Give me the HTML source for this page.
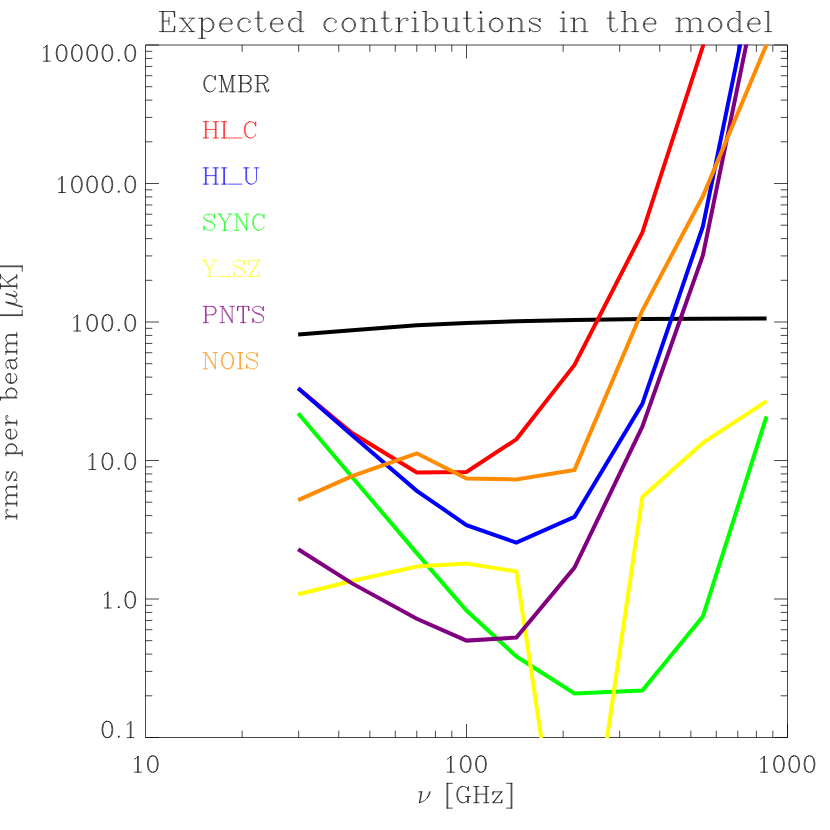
<!DOCTYPE html>
<html><head><meta charset="utf-8"><title>Expected contributions in the model</title>
<style>html,body{margin:0;padding:0;background:#fff;font-family:"Liberation Sans",sans-serif}svg{display:block}</style></head>
<body>
<svg width="830" height="830" viewBox="0 0 830 830">
<rect width="830" height="830" fill="#fff"/>
<path d="M145.5,45H787.5V737.5H145.5ZM242.13,737.5v-6.8M242.13,45v6.8M298.66,737.5v-6.8M298.66,45v6.8M338.76,737.5v-6.8M338.76,45v6.8M369.87,737.5v-6.8M369.87,45v6.8M395.29,737.5v-6.8M395.29,45v6.8M416.78,737.5v-6.8M416.78,45v6.8M435.39,737.5v-6.8M435.39,45v6.8M451.81,737.5v-6.8M451.81,45v6.8M466.5,737.5v-13.5M466.5,45v13.5M563.13,737.5v-6.8M563.13,45v6.8M619.66,737.5v-6.8M619.66,45v6.8M659.76,737.5v-6.8M659.76,45v6.8M690.87,737.5v-6.8M690.87,45v6.8M716.29,737.5v-6.8M716.29,45v6.8M737.78,737.5v-6.8M737.78,45v6.8M756.39,737.5v-6.8M756.39,45v6.8M772.81,737.5v-6.8M772.81,45v6.8M787.5,737.5v-13.5M787.5,45v13.5M145.5,737.5h13.5M787.5,737.5h-13.5M145.5,695.81h6.8M787.5,695.81h-6.8M145.5,671.42h6.8M787.5,671.42h-6.8M145.5,654.11h6.8M787.5,654.11h-6.8M145.5,640.69h6.8M787.5,640.69h-6.8M145.5,629.73h6.8M787.5,629.73h-6.8M145.5,620.45h6.8M787.5,620.45h-6.8M145.5,612.42h6.8M787.5,612.42h-6.8M145.5,605.34h6.8M787.5,605.34h-6.8M145.5,599h13.5M787.5,599h-13.5M145.5,557.31h6.8M787.5,557.31h-6.8M145.5,532.92h6.8M787.5,532.92h-6.8M145.5,515.61h6.8M787.5,515.61h-6.8M145.5,502.19h6.8M787.5,502.19h-6.8M145.5,491.23h6.8M787.5,491.23h-6.8M145.5,481.95h6.8M787.5,481.95h-6.8M145.5,473.92h6.8M787.5,473.92h-6.8M145.5,466.84h6.8M787.5,466.84h-6.8M145.5,460.5h13.5M787.5,460.5h-13.5M145.5,418.81h6.8M787.5,418.81h-6.8M145.5,394.42h6.8M787.5,394.42h-6.8M145.5,377.11h6.8M787.5,377.11h-6.8M145.5,363.69h6.8M787.5,363.69h-6.8M145.5,352.73h6.8M787.5,352.73h-6.8M145.5,343.45h6.8M787.5,343.45h-6.8M145.5,335.42h6.8M787.5,335.42h-6.8M145.5,328.34h6.8M787.5,328.34h-6.8M145.5,322h13.5M787.5,322h-13.5M145.5,280.31h6.8M787.5,280.31h-6.8M145.5,255.92h6.8M787.5,255.92h-6.8M145.5,238.61h6.8M787.5,238.61h-6.8M145.5,225.19h6.8M787.5,225.19h-6.8M145.5,214.23h6.8M787.5,214.23h-6.8M145.5,204.95h6.8M787.5,204.95h-6.8M145.5,196.92h6.8M787.5,196.92h-6.8M145.5,189.84h6.8M787.5,189.84h-6.8M145.5,183.5h13.5M787.5,183.5h-13.5M145.5,141.81h6.8M787.5,141.81h-6.8M145.5,117.42h6.8M787.5,117.42h-6.8M145.5,100.11h6.8M787.5,100.11h-6.8M145.5,86.69h6.8M787.5,86.69h-6.8M145.5,75.73h6.8M787.5,75.73h-6.8M145.5,66.45h6.8M787.5,66.45h-6.8M145.5,58.42h6.8M787.5,58.42h-6.8M145.5,51.34h6.8M787.5,51.34h-6.8M145.5,45h13.5M787.5,45h-13.5" stroke="#000" stroke-width="0.72" fill="none" stroke-linecap="butt"/>
<defs><clipPath id="c"><rect x="145" y="44.5" width="643" height="693.5"/></clipPath></defs>
<g clip-path="url(#c)" fill="none" stroke-width="4.0" stroke-linejoin="miter" stroke-linecap="butt" stroke-miterlimit="10">
<polyline points="298.16,334.5 352.05,330.2 416.78,325.3 466.5,323 516.36,321.2 574.5,319.9 642.34,319 702.88,318.7 766.59,318.6" stroke="#000000"/>
<polyline points="298.16,388.2 352.05,433 416.78,472.5 466.5,471.9 516.36,439.3 574.5,365 642.34,232.6 702.88,46.3 766.59,-300" stroke="#ff0000"/>
<polyline points="298.16,388.2 352.05,435.3 416.78,490.8 466.5,525.1 516.36,542.7 574.5,516.9 642.34,403.9 702.88,226.5 766.59,-84" stroke="#0000ff"/>
<polyline points="298.16,413.3 352.05,477 416.78,553.1 466.5,610.5 516.36,656.4 574.5,693.5 642.34,690.6 702.88,616.6 766.59,416.3" stroke="#00ff00"/>
<polyline points="298.16,594.2 352.05,581 416.78,566.5 466.5,563.6 516.36,571.4 574.5,960 642.34,497.1 702.88,442.9 766.59,401.2" stroke="#ffff00"/>
<polyline points="298.16,549.2 352.05,583.4 416.78,618.8 466.5,640.6 516.36,637.6 574.5,567.6 642.34,426.7 702.88,255.4 766.59,-54" stroke="#800080"/>
<polyline points="298.16,500.2 352.05,476.1 416.78,453.3 466.5,478.5 516.36,479.5 574.5,469.9 642.34,310.5 702.88,196.3 766.59,44.5" stroke="#ff8c00"/>
</g>
<path d="M162.28,11.51L162.28,31.6M163.24,11.51L163.24,31.6M168.98,17.25L168.98,24.9M159.41,11.51L174.72,11.51L174.72,17.25L173.76,11.51M163.24,21.08L168.98,21.08M159.41,31.6L174.72,31.6L174.72,25.86L173.76,31.6M181.41,18.21L191.93,31.6M182.37,18.21L192.89,31.6M192.89,18.21L181.41,31.6M179.5,18.21L185.24,18.21M189.06,18.21L194.8,18.21M179.5,31.6L185.24,31.6M189.06,31.6L194.8,31.6M201.5,18.21L201.5,38.3M202.46,18.21L202.46,38.3M202.46,21.08L204.37,19.17L206.28,18.21L208.19,18.21L211.06,19.17L212.98,21.08L213.93,23.95L213.93,25.86L212.98,28.73L211.06,30.64L208.19,31.6L206.28,31.6L204.37,30.64L202.46,28.73M208.19,18.21L210.11,19.17L212.02,21.08L212.98,23.95L212.98,25.86L212.02,28.73L210.11,30.64L208.19,31.6M198.63,18.21L202.46,18.21M198.63,38.3L205.32,38.3M220.63,23.95L232.11,23.95L232.11,22.04L231.15,20.12L230.19,19.17L228.28,18.21L225.41,18.21L222.54,19.17L220.63,21.08L219.67,23.95L219.67,25.86L220.63,28.73L222.54,30.64L225.41,31.6L227.32,31.6L230.19,30.64L232.11,28.73M231.15,23.95L231.15,21.08L230.19,19.17M225.41,18.21L223.5,19.17L221.59,21.08L220.63,23.95L220.63,25.86L221.59,28.73L223.5,30.64L225.41,31.6M249.32,21.08L248.37,22.04L249.32,22.99L250.28,22.04L250.28,21.08L248.37,19.17L246.45,18.21L243.59,18.21L240.72,19.17L238.8,21.08L237.85,23.95L237.85,25.86L238.8,28.73L240.72,30.64L243.59,31.6L245.5,31.6L248.37,30.64L250.28,28.73M243.59,18.21L241.67,19.17L239.76,21.08L238.8,23.95L238.8,25.86L239.76,28.73L241.67,30.64L243.59,31.6M257.93,11.51L257.93,27.77L258.89,30.64L260.8,31.6L262.72,31.6L264.63,30.64L265.58,28.73M258.89,11.51L258.89,27.77L259.85,30.64L260.8,31.6M255.06,18.21L262.72,18.21M271.32,23.95L282.8,23.95L282.8,22.04L281.85,20.12L280.89,19.17L278.98,18.21L276.11,18.21L273.24,19.17L271.32,21.08L270.37,23.95L270.37,25.86L271.32,28.73L273.24,30.64L276.11,31.6L278.02,31.6L280.89,30.64L282.8,28.73M281.85,23.95L281.85,21.08L280.89,19.17M276.11,18.21L274.19,19.17L272.28,21.08L271.32,23.95L271.32,25.86L272.28,28.73L274.19,30.64L276.11,31.6M300.02,11.51L300.02,31.6M300.98,11.51L300.98,31.6M300.02,21.08L298.11,19.17L296.19,18.21L294.28,18.21L291.41,19.17L289.5,21.08L288.54,23.95L288.54,25.86L289.5,28.73L291.41,30.64L294.28,31.6L296.19,31.6L298.11,30.64L300.02,28.73M294.28,18.21L292.37,19.17L290.45,21.08L289.5,23.95L289.5,25.86L290.45,28.73L292.37,30.64L294.28,31.6M297.15,11.51L300.98,11.51M300.02,31.6L303.84,31.6M335.41,21.08L334.45,22.04L335.41,22.99L336.37,22.04L336.37,21.08L334.45,19.17L332.54,18.21L329.67,18.21L326.8,19.17L324.89,21.08L323.93,23.95L323.93,25.86L324.89,28.73L326.8,30.64L329.67,31.6L331.58,31.6L334.45,30.64L336.37,28.73M329.67,18.21L327.76,19.17L325.84,21.08L324.89,23.95L324.89,25.86L325.84,28.73L327.76,30.64L329.67,31.6M347.84,18.21L344.97,19.17L343.06,21.08L342.1,23.95L342.1,25.86L343.06,28.73L344.97,30.64L347.84,31.6L349.76,31.6L352.63,30.64L354.54,28.73L355.5,25.86L355.5,23.95L354.54,21.08L352.63,19.17L349.76,18.21L347.84,18.21M347.84,18.21L345.93,19.17L344.02,21.08L343.06,23.95L343.06,25.86L344.02,28.73L345.93,30.64L347.84,31.6M349.76,31.6L351.67,30.64L353.58,28.73L354.54,25.86L354.54,23.95L353.58,21.08L351.67,19.17L349.76,18.21M363.15,18.21L363.15,31.6M364.1,18.21L364.1,31.6M364.1,21.08L366.02,19.17L368.89,18.21L370.8,18.21L373.67,19.17L374.63,21.08L374.63,31.6M370.8,18.21L372.71,19.17L373.67,21.08L373.67,31.6M360.28,18.21L364.1,18.21M360.28,31.6L366.97,31.6M370.8,31.6L377.5,31.6M384.19,11.51L384.19,27.77L385.15,30.64L387.06,31.6L388.97,31.6L390.89,30.64L391.84,28.73M385.15,11.51L385.15,27.77L386.1,30.64L387.06,31.6M381.32,18.21L388.97,18.21M398.54,18.21L398.54,31.6M399.49,18.21L399.49,31.6M399.49,23.95L400.45,21.08L402.36,19.17L404.28,18.21L407.15,18.21L408.1,19.17L408.1,20.12L407.15,21.08L406.19,20.12L407.15,19.17M395.67,18.21L399.49,18.21M395.67,31.6L402.36,31.6M414.8,11.51L413.84,12.47L414.8,13.43L415.75,12.47L414.8,11.51M414.8,18.21L414.8,31.6M415.75,18.21L415.75,31.6M411.93,18.21L415.75,18.21M411.93,31.6L418.62,31.6M425.32,11.51L425.32,31.6M426.28,11.51L426.28,31.6M426.28,21.08L428.19,19.17L430.1,18.21L432.02,18.21L434.88,19.17L436.8,21.08L437.75,23.95L437.75,25.86L436.8,28.73L434.88,30.64L432.02,31.6L430.1,31.6L428.19,30.64L426.28,28.73M432.02,18.21L433.93,19.17L435.84,21.08L436.8,23.95L436.8,25.86L435.84,28.73L433.93,30.64L432.02,31.6M422.45,11.51L426.28,11.51M445.41,18.21L445.41,28.73L446.36,30.64L449.23,31.6L451.15,31.6L454.01,30.64L455.93,28.73M446.36,18.21L446.36,28.73L447.32,30.64L449.23,31.6M455.93,18.21L455.93,31.6M456.88,18.21L456.88,31.6M442.54,18.21L446.36,18.21M453.06,18.21L456.88,18.21M455.93,31.6L459.75,31.6M466.45,11.51L466.45,27.77L467.41,30.64L469.32,31.6L471.23,31.6L473.14,30.64L474.1,28.73M467.41,11.51L467.41,27.77L468.36,30.64L469.32,31.6M463.58,18.21L471.23,18.21M480.8,11.51L479.84,12.47L480.8,13.43L481.75,12.47L480.8,11.51M480.8,18.21L480.8,31.6M481.75,18.21L481.75,31.6M477.93,18.21L481.75,18.21M477.93,31.6L484.62,31.6M495.14,18.21L492.28,19.17L490.36,21.08L489.41,23.95L489.41,25.86L490.36,28.73L492.28,30.64L495.14,31.6L497.06,31.6L499.93,30.64L501.84,28.73L502.8,25.86L502.8,23.95L501.84,21.08L499.93,19.17L497.06,18.21L495.14,18.21M495.14,18.21L493.23,19.17L491.32,21.08L490.36,23.95L490.36,25.86L491.32,28.73L493.23,30.64L495.14,31.6M497.06,31.6L498.97,30.64L500.88,28.73L501.84,25.86L501.84,23.95L500.88,21.08L498.97,19.17L497.06,18.21M510.45,18.21L510.45,31.6M511.41,18.21L511.41,31.6M511.41,21.08L513.32,19.17L516.19,18.21L518.1,18.21L520.97,19.17L521.93,21.08L521.93,31.6M518.1,18.21L520.01,19.17L520.97,21.08L520.97,31.6M507.58,18.21L511.41,18.21M507.58,31.6L514.27,31.6M518.1,31.6L524.8,31.6M539.14,20.12L540.1,18.21L540.1,22.04L539.14,20.12L538.19,19.17L536.27,18.21L532.45,18.21L530.54,19.17L529.58,20.12L529.58,22.04L530.54,22.99L532.45,23.95L537.23,25.86L539.14,26.82L540.1,27.77M529.58,21.08L530.54,22.04L532.45,22.99L537.23,24.9L539.14,25.86L540.1,26.82L540.1,29.69L539.14,30.64L537.23,31.6L533.4,31.6L531.49,30.64L530.54,29.69L529.58,27.77L529.58,31.6L530.54,29.69M563.06,11.51L562.1,12.47L563.06,13.43L564.01,12.47L563.06,11.51M563.06,18.21L563.06,31.6M564.01,18.21L564.01,31.6M560.19,18.21L564.01,18.21M560.19,31.6L566.88,31.6M573.58,18.21L573.58,31.6M574.53,18.21L574.53,31.6M574.53,21.08L576.45,19.17L579.32,18.21L581.23,18.21L584.1,19.17L585.06,21.08L585.06,31.6M581.23,18.21L583.14,19.17L584.1,21.08L584.1,31.6M570.71,18.21L574.53,18.21M570.71,31.6L577.4,31.6M581.23,31.6L587.92,31.6M609.92,11.51L609.92,27.77L610.88,30.64L612.79,31.6L614.71,31.6L616.62,30.64L617.58,28.73M610.88,11.51L610.88,27.77L611.84,30.64L612.79,31.6M607.06,18.21L614.71,18.21M624.27,11.51L624.27,31.6M625.23,11.51L625.23,31.6M625.23,21.08L627.14,19.17L630.01,18.21L631.92,18.21L634.79,19.17L635.75,21.08L635.75,31.6M631.92,18.21L633.84,19.17L634.79,21.08L634.79,31.6M621.4,11.51L625.23,11.51M621.4,31.6L628.1,31.6M631.92,31.6L638.62,31.6M644.36,23.95L655.84,23.95L655.84,22.04L654.88,20.12L653.92,19.17L652.01,18.21L649.14,18.21L646.27,19.17L644.36,21.08L643.4,23.95L643.4,25.86L644.36,28.73L646.27,30.64L649.14,31.6L651.05,31.6L653.92,30.64L655.84,28.73M654.88,23.95L654.88,21.08L653.92,19.17M649.14,18.21L647.23,19.17L645.32,21.08L644.36,23.95L644.36,25.86L645.32,28.73L647.23,30.64L649.14,31.6M678.79,18.21L678.79,31.6M679.75,18.21L679.75,31.6M679.75,21.08L681.66,19.17L684.53,18.21L686.44,18.21L689.31,19.17L690.27,21.08L690.27,31.6M686.44,18.21L688.36,19.17L689.31,21.08L689.31,31.6M690.27,21.08L692.18,19.17L695.05,18.21L696.97,18.21L699.84,19.17L700.79,21.08L700.79,31.6M696.97,18.21L698.88,19.17L699.84,21.08L699.84,31.6M675.92,18.21L679.75,18.21M675.92,31.6L682.62,31.6M686.44,31.6L693.14,31.6M696.97,31.6L703.66,31.6M714.18,18.21L711.31,19.17L709.4,21.08L708.44,23.95L708.44,25.86L709.4,28.73L711.31,30.64L714.18,31.6L716.1,31.6L718.97,30.64L720.88,28.73L721.84,25.86L721.84,23.95L720.88,21.08L718.97,19.17L716.1,18.21L714.18,18.21M714.18,18.21L712.27,19.17L710.36,21.08L709.4,23.95L709.4,25.86L710.36,28.73L712.27,30.64L714.18,31.6M716.1,31.6L718.01,30.64L719.92,28.73L720.88,25.86L720.88,23.95L719.92,21.08L718.01,19.17L716.1,18.21M739.05,11.51L739.05,31.6M740.01,11.51L740.01,31.6M739.05,21.08L737.14,19.17L735.23,18.21L733.31,18.21L730.44,19.17L728.53,21.08L727.57,23.95L727.57,25.86L728.53,28.73L730.44,30.64L733.31,31.6L735.23,31.6L737.14,30.64L739.05,28.73M733.31,18.21L731.4,19.17L729.49,21.08L728.53,23.95L728.53,25.86L729.49,28.73L731.4,30.64L733.31,31.6M736.18,11.51L740.01,11.51M739.05,31.6L742.88,31.6M748.62,23.95L760.1,23.95L760.1,22.04L759.14,20.12L758.18,19.17L756.27,18.21L753.4,18.21L750.53,19.17L748.62,21.08L747.66,23.95L747.66,25.86L748.62,28.73L750.53,30.64L753.4,31.6L755.31,31.6L758.18,30.64L760.1,28.73M759.14,23.95L759.14,21.08L758.18,19.17M753.4,18.21L751.49,19.17L749.57,21.08L748.62,23.95L748.62,25.86L749.57,28.73L751.49,30.64L753.4,31.6M767.75,11.51L767.75,31.6M768.7,11.51L768.7,31.6M764.88,11.51L768.7,11.51M764.88,31.6L771.57,31.6" stroke="#000" stroke-width="0.7" fill="none" stroke-linecap="round" stroke-linejoin="round"/>
<path d="M414.8,11.51L413.84,12.47L414.8,13.43L415.75,12.47L414.8,11.51ZM480.8,11.51L479.84,12.47L480.8,13.43L481.75,12.47L480.8,11.51ZM563.06,11.51L562.1,12.47L563.06,13.43L564.01,12.47L563.06,11.51Z" fill="#000" stroke="none"/>
<path d="M43.29,48.03L44.81,47.25L47.1,44.92L47.1,61.2M46.34,45.7L46.34,61.2M43.29,61.2L50.16,61.2M60.84,44.92L58.55,45.7L57.02,48.03L56.26,51.9L56.26,54.23L57.02,58.1L58.55,60.43L60.84,61.2L62.36,61.2L64.65,60.43L66.18,58.1L66.94,54.23L66.94,51.9L66.18,48.03L64.65,45.7L62.36,44.92L60.84,44.92M60.84,44.92L59.31,45.7L58.55,46.48L57.79,48.03L57.02,51.9L57.02,54.23L57.79,58.1L58.55,59.65L59.31,60.43L60.84,61.2M62.36,61.2L63.89,60.43L64.65,59.65L65.42,58.1L66.18,54.23L66.18,51.9L65.42,48.03L64.65,46.48L63.89,45.7L62.36,44.92M76.1,44.92L73.81,45.7L72.28,48.03L71.52,51.9L71.52,54.23L72.28,58.1L73.81,60.43L76.1,61.2L77.62,61.2L79.91,60.43L81.44,58.1L82.2,54.23L82.2,51.9L81.44,48.03L79.91,45.7L77.62,44.92L76.1,44.92M76.1,44.92L74.57,45.7L73.81,46.48L73.05,48.03L72.28,51.9L72.28,54.23L73.05,58.1L73.81,59.65L74.57,60.43L76.1,61.2M77.62,61.2L79.15,60.43L79.91,59.65L80.68,58.1L81.44,54.23L81.44,51.9L80.68,48.03L79.91,46.48L79.15,45.7L77.62,44.92M91.36,44.92L89.07,45.7L87.54,48.03L86.78,51.9L86.78,54.23L87.54,58.1L89.07,60.43L91.36,61.2L92.88,61.2L95.17,60.43L96.7,58.1L97.46,54.23L97.46,51.9L96.7,48.03L95.17,45.7L92.88,44.92L91.36,44.92M91.36,44.92L89.83,45.7L89.07,46.48L88.31,48.03L87.54,51.9L87.54,54.23L88.31,58.1L89.07,59.65L89.83,60.43L91.36,61.2M92.88,61.2L94.41,60.43L95.17,59.65L95.94,58.1L96.7,54.23L96.7,51.9L95.94,48.03L95.17,46.48L94.41,45.7L92.88,44.92M106.62,44.92L104.33,45.7L102.8,48.03L102.04,51.9L102.04,54.23L102.8,58.1L104.33,60.43L106.62,61.2L108.14,61.2L110.43,60.43L111.96,58.1L112.72,54.23L112.72,51.9L111.96,48.03L110.43,45.7L108.14,44.92L106.62,44.92M106.62,44.92L105.09,45.7L104.33,46.48L103.57,48.03L102.8,51.9L102.8,54.23L103.57,58.1L104.33,59.65L105.09,60.43L106.62,61.2M108.14,61.2L109.67,60.43L110.43,59.65L111.2,58.1L111.96,54.23L111.96,51.9L111.2,48.03L110.43,46.48L109.67,45.7L108.14,44.92M118.83,59.65L118.06,60.43L118.83,61.2L119.59,60.43L118.83,59.65M129.51,44.92L127.22,45.7L125.69,48.03L124.93,51.9L124.93,54.23L125.69,58.1L127.22,60.43L129.51,61.2L131.03,61.2L133.32,60.43L134.85,58.1L135.61,54.23L135.61,51.9L134.85,48.03L133.32,45.7L131.03,44.92L129.51,44.92M129.51,44.92L127.98,45.7L127.22,46.48L126.46,48.03L125.69,51.9L125.69,54.23L126.46,58.1L127.22,59.65L127.98,60.43L129.51,61.2M131.03,61.2L132.56,60.43L133.32,59.65L134.09,58.1L134.85,54.23L134.85,51.9L134.09,48.03L133.32,46.48L132.56,45.7L131.03,44.92" stroke="#000" stroke-width="0.7" fill="none" stroke-linecap="round" stroke-linejoin="round"/>
<path d="M118.83,59.65L118.06,60.43L118.83,61.2L119.59,60.43L118.83,59.65Z" fill="#000" stroke="none"/>
<path d="M58.55,179.32L60.07,178.55L62.36,176.22L62.36,192.5M61.6,177L61.6,192.5M58.55,192.5L65.41,192.5M76.1,176.22L73.81,177L72.28,179.32L71.52,183.2L71.52,185.53L72.28,189.4L73.81,191.72L76.1,192.5L77.62,192.5L79.91,191.72L81.44,189.4L82.2,185.53L82.2,183.2L81.44,179.32L79.91,177L77.62,176.22L76.1,176.22M76.1,176.22L74.57,177L73.81,177.78L73.05,179.32L72.28,183.2L72.28,185.53L73.05,189.4L73.81,190.95L74.57,191.72L76.1,192.5M77.62,192.5L79.15,191.72L79.91,190.95L80.67,189.4L81.44,185.53L81.44,183.2L80.67,179.32L79.91,177.78L79.15,177L77.62,176.22M91.36,176.22L89.07,177L87.54,179.32L86.78,183.2L86.78,185.53L87.54,189.4L89.07,191.72L91.36,192.5L92.88,192.5L95.17,191.72L96.7,189.4L97.46,185.53L97.46,183.2L96.7,179.32L95.17,177L92.88,176.22L91.36,176.22M91.36,176.22L89.83,177L89.07,177.78L88.31,179.32L87.54,183.2L87.54,185.53L88.31,189.4L89.07,190.95L89.83,191.72L91.36,192.5M92.88,192.5L94.41,191.72L95.17,190.95L95.94,189.4L96.7,185.53L96.7,183.2L95.94,179.32L95.17,177.78L94.41,177L92.88,176.22M106.62,176.22L104.33,177L102.8,179.32L102.04,183.2L102.04,185.53L102.8,189.4L104.33,191.72L106.62,192.5L108.14,192.5L110.43,191.72L111.96,189.4L112.72,185.53L112.72,183.2L111.96,179.32L110.43,177L108.14,176.22L106.62,176.22M106.62,176.22L105.09,177L104.33,177.78L103.56,179.32L102.8,183.2L102.8,185.53L103.56,189.4L104.33,190.95L105.09,191.72L106.62,192.5M108.14,192.5L109.67,191.72L110.43,190.95L111.19,189.4L111.96,185.53L111.96,183.2L111.19,179.32L110.43,177.78L109.67,177L108.14,176.22M118.83,190.95L118.06,191.72L118.83,192.5L119.59,191.72L118.83,190.95M129.51,176.22L127.22,177L125.69,179.32L124.93,183.2L124.93,185.53L125.69,189.4L127.22,191.72L129.51,192.5L131.03,192.5L133.32,191.72L134.85,189.4L135.61,185.53L135.61,183.2L134.85,179.32L133.32,177L131.03,176.22L129.51,176.22M129.51,176.22L127.98,177L127.22,177.78L126.45,179.32L125.69,183.2L125.69,185.53L126.45,189.4L127.22,190.95L127.98,191.72L129.51,192.5M131.03,192.5L132.56,191.72L133.32,190.95L134.08,189.4L134.85,185.53L134.85,183.2L134.08,179.32L133.32,177.78L132.56,177L131.03,176.22" stroke="#000" stroke-width="0.7" fill="none" stroke-linecap="round" stroke-linejoin="round"/>
<path d="M118.83,190.95L118.06,191.72L118.83,192.5L119.59,191.72L118.83,190.95Z" fill="#000" stroke="none"/>
<path d="M73.81,317.82L75.33,317.05L77.62,314.73L77.62,331M76.86,315.5L76.86,331M73.81,331L80.68,331M91.36,314.73L89.07,315.5L87.54,317.82L86.78,321.7L86.78,324.02L87.54,327.9L89.07,330.23L91.36,331L92.88,331L95.17,330.23L96.7,327.9L97.46,324.02L97.46,321.7L96.7,317.82L95.17,315.5L92.88,314.73L91.36,314.73M91.36,314.73L89.83,315.5L89.07,316.27L88.31,317.82L87.54,321.7L87.54,324.02L88.31,327.9L89.07,329.45L89.83,330.23L91.36,331M92.88,331L94.41,330.23L95.17,329.45L95.94,327.9L96.7,324.02L96.7,321.7L95.94,317.82L95.17,316.27L94.41,315.5L92.88,314.73M106.62,314.73L104.33,315.5L102.8,317.82L102.04,321.7L102.04,324.02L102.8,327.9L104.33,330.23L106.62,331L108.14,331L110.43,330.23L111.96,327.9L112.72,324.02L112.72,321.7L111.96,317.82L110.43,315.5L108.14,314.73L106.62,314.73M106.62,314.73L105.09,315.5L104.33,316.27L103.56,317.82L102.8,321.7L102.8,324.02L103.56,327.9L104.33,329.45L105.09,330.23L106.62,331M108.14,331L109.67,330.23L110.43,329.45L111.2,327.9L111.96,324.02L111.96,321.7L111.2,317.82L110.43,316.27L109.67,315.5L108.14,314.73M118.83,329.45L118.06,330.23L118.83,331L119.59,330.23L118.83,329.45M129.51,314.73L127.22,315.5L125.69,317.82L124.93,321.7L124.93,324.02L125.69,327.9L127.22,330.23L129.51,331L131.03,331L133.32,330.23L134.85,327.9L135.61,324.02L135.61,321.7L134.85,317.82L133.32,315.5L131.03,314.73L129.51,314.73M129.51,314.73L127.98,315.5L127.22,316.27L126.46,317.82L125.69,321.7L125.69,324.02L126.46,327.9L127.22,329.45L127.98,330.23L129.51,331M131.03,331L132.56,330.23L133.32,329.45L134.09,327.9L134.85,324.02L134.85,321.7L134.09,317.82L133.32,316.27L132.56,315.5L131.03,314.73" stroke="#000" stroke-width="0.7" fill="none" stroke-linecap="round" stroke-linejoin="round"/>
<path d="M118.83,329.45L118.06,330.23L118.83,331L119.59,330.23L118.83,329.45Z" fill="#000" stroke="none"/>
<path d="M89.07,456.32L90.59,455.55L92.88,453.23L92.88,469.5M92.12,454L92.12,469.5M89.07,469.5L95.94,469.5M106.62,453.23L104.33,454L102.8,456.32L102.04,460.2L102.04,462.52L102.8,466.4L104.33,468.73L106.62,469.5L108.14,469.5L110.43,468.73L111.96,466.4L112.72,462.52L112.72,460.2L111.96,456.32L110.43,454L108.14,453.23L106.62,453.23M106.62,453.23L105.09,454L104.33,454.77L103.57,456.32L102.8,460.2L102.8,462.52L103.57,466.4L104.33,467.95L105.09,468.73L106.62,469.5M108.14,469.5L109.67,468.73L110.43,467.95L111.2,466.4L111.96,462.52L111.96,460.2L111.2,456.32L110.43,454.77L109.67,454L108.14,453.23M118.83,467.95L118.06,468.73L118.83,469.5L119.59,468.73L118.83,467.95M129.51,453.23L127.22,454L125.69,456.32L124.93,460.2L124.93,462.52L125.69,466.4L127.22,468.73L129.51,469.5L131.03,469.5L133.32,468.73L134.85,466.4L135.61,462.52L135.61,460.2L134.85,456.32L133.32,454L131.03,453.23L129.51,453.23M129.51,453.23L127.98,454L127.22,454.77L126.46,456.32L125.69,460.2L125.69,462.52L126.46,466.4L127.22,467.95L127.98,468.73L129.51,469.5M131.03,469.5L132.56,468.73L133.32,467.95L134.09,466.4L134.85,462.52L134.85,460.2L134.09,456.32L133.32,454.77L132.56,454L131.03,453.23" stroke="#000" stroke-width="0.7" fill="none" stroke-linecap="round" stroke-linejoin="round"/>
<path d="M118.83,467.95L118.06,468.73L118.83,469.5L119.59,468.73L118.83,467.95Z" fill="#000" stroke="none"/>
<path d="M104.33,594.83L105.85,594.05L108.14,591.73L108.14,608M107.38,592.5L107.38,608M104.33,608L111.19,608M118.83,606.45L118.06,607.23L118.83,608L119.59,607.23L118.83,606.45M129.51,591.73L127.22,592.5L125.69,594.83L124.93,598.7L124.93,601.02L125.69,604.9L127.22,607.23L129.51,608L131.03,608L133.32,607.23L134.85,604.9L135.61,601.02L135.61,598.7L134.85,594.83L133.32,592.5L131.03,591.73L129.51,591.73M129.51,591.73L127.98,592.5L127.22,593.27L126.45,594.83L125.69,598.7L125.69,601.02L126.45,604.9L127.22,606.45L127.98,607.23L129.51,608M131.03,608L132.56,607.23L133.32,606.45L134.09,604.9L134.85,601.02L134.85,598.7L134.09,594.83L133.32,593.27L132.56,592.5L131.03,591.73" stroke="#000" stroke-width="0.7" fill="none" stroke-linecap="round" stroke-linejoin="round"/>
<path d="M118.83,606.45L118.06,607.23L118.83,608L119.59,607.23L118.83,606.45Z" fill="#000" stroke="none"/>
<path d="M106.62,721.33L104.33,722.1L102.8,724.43L102.04,728.3L102.04,730.62L102.8,734.5L104.33,736.83L106.62,737.6L108.14,737.6L110.43,736.83L111.96,734.5L112.72,730.62L112.72,728.3L111.96,724.43L110.43,722.1L108.14,721.33L106.62,721.33M106.62,721.33L105.09,722.1L104.33,722.88L103.56,724.43L102.8,728.3L102.8,730.62L103.56,734.5L104.33,736.05L105.09,736.83L106.62,737.6M108.14,737.6L109.67,736.83L110.43,736.05L111.19,734.5L111.96,730.62L111.96,728.3L111.19,724.43L110.43,722.88L109.67,722.1L108.14,721.33M118.83,736.05L118.06,736.83L118.83,737.6L119.59,736.83L118.83,736.05M127.22,724.43L128.74,723.65L131.03,721.33L131.03,737.6M130.27,722.1L130.27,737.6M127.22,737.6L134.09,737.6" stroke="#000" stroke-width="0.7" fill="none" stroke-linecap="round" stroke-linejoin="round"/>
<path d="M118.83,736.05L118.06,736.83L118.83,737.6L119.59,736.83L118.83,736.05Z" fill="#000" stroke="none"/>
<path d="M134.52,759.03L136.04,758.25L138.33,755.93L138.33,772.2M137.57,756.7L137.57,772.2M134.52,772.2L141.38,772.2M152.07,755.93L149.78,756.7L148.25,759.03L147.49,762.9L147.49,765.23L148.25,769.1L149.78,771.43L152.07,772.2L153.59,772.2L155.88,771.43L157.41,769.1L158.17,765.23L158.17,762.9L157.41,759.03L155.88,756.7L153.59,755.93L152.07,755.93M152.07,755.93L150.54,756.7L149.78,757.48L149.01,759.03L148.25,762.9L148.25,765.23L149.01,769.1L149.78,770.65L150.54,771.43L152.07,772.2M153.59,772.2L155.12,771.43L155.88,770.65L156.65,769.1L157.41,765.23L157.41,762.9L156.65,759.03L155.88,757.48L155.12,756.7L153.59,755.93" stroke="#000" stroke-width="0.7" fill="none" stroke-linecap="round" stroke-linejoin="round"/>
<path d="M447.39,759.03L448.91,758.25L451.2,755.93L451.2,772.2M450.44,756.7L450.44,772.2M447.39,772.2L454.25,772.2M464.94,755.93L462.65,756.7L461.12,759.03L460.36,762.9L460.36,765.23L461.12,769.1L462.65,771.43L464.94,772.2L466.46,772.2L468.75,771.43L470.28,769.1L471.04,765.23L471.04,762.9L470.28,759.03L468.75,756.7L466.46,755.93L464.94,755.93M464.94,755.93L463.41,756.7L462.65,757.48L461.88,759.03L461.12,762.9L461.12,765.23L461.88,769.1L462.65,770.65L463.41,771.43L464.94,772.2M466.46,772.2L467.99,771.43L468.75,770.65L469.51,769.1L470.28,765.23L470.28,762.9L469.51,759.03L468.75,757.48L467.99,756.7L466.46,755.93M480.2,755.93L477.91,756.7L476.38,759.03L475.62,762.9L475.62,765.23L476.38,769.1L477.91,771.43L480.2,772.2L481.72,772.2L484.01,771.43L485.54,769.1L486.3,765.23L486.3,762.9L485.54,759.03L484.01,756.7L481.72,755.93L480.2,755.93M480.2,755.93L478.67,756.7L477.91,757.48L477.14,759.03L476.38,762.9L476.38,765.23L477.14,769.1L477.91,770.65L478.67,771.43L480.2,772.2M481.72,772.2L483.25,771.43L484.01,770.65L484.77,769.1L485.54,765.23L485.54,762.9L484.77,759.03L484.01,757.48L483.25,756.7L481.72,755.93" stroke="#000" stroke-width="0.7" fill="none" stroke-linecap="round" stroke-linejoin="round"/>
<path d="M760.66,759.03L762.18,758.25L764.47,755.93L764.47,772.2M763.71,756.7L763.71,772.2M760.66,772.2L767.53,772.2M778.21,755.93L775.92,756.7L774.39,759.03L773.63,762.9L773.63,765.23L774.39,769.1L775.92,771.43L778.21,772.2L779.73,772.2L782.02,771.43L783.55,769.1L784.31,765.23L784.31,762.9L783.55,759.03L782.02,756.7L779.73,755.93L778.21,755.93M778.21,755.93L776.68,756.7L775.92,757.48L775.16,759.03L774.39,762.9L774.39,765.23L775.16,769.1L775.92,770.65L776.68,771.43L778.21,772.2M779.73,772.2L781.26,771.43L782.02,770.65L782.79,769.1L783.55,765.23L783.55,762.9L782.79,759.03L782.02,757.48L781.26,756.7L779.73,755.93M793.47,755.93L791.18,756.7L789.65,759.03L788.89,762.9L788.89,765.23L789.65,769.1L791.18,771.43L793.47,772.2L794.99,772.2L797.28,771.43L798.81,769.1L799.57,765.23L799.57,762.9L798.81,759.03L797.28,756.7L794.99,755.93L793.47,755.93M793.47,755.93L791.94,756.7L791.18,757.48L790.42,759.03L789.65,762.9L789.65,765.23L790.42,769.1L791.18,770.65L791.94,771.43L793.47,772.2M794.99,772.2L796.52,771.43L797.28,770.65L798.05,769.1L798.81,765.23L798.81,762.9L798.05,759.03L797.28,757.48L796.52,756.7L794.99,755.93M808.73,755.93L806.44,756.7L804.91,759.03L804.15,762.9L804.15,765.23L804.91,769.1L806.44,771.43L808.73,772.2L810.25,772.2L812.54,771.43L814.07,769.1L814.83,765.23L814.83,762.9L814.07,759.03L812.54,756.7L810.25,755.93L808.73,755.93M808.73,755.93L807.2,756.7L806.44,757.48L805.68,759.03L804.91,762.9L804.91,765.23L805.68,769.1L806.44,770.65L807.2,771.43L808.73,772.2M810.25,772.2L811.78,771.43L812.54,770.65L813.31,769.1L814.07,765.23L814.07,762.9L813.31,759.03L812.54,757.48L811.78,756.7L810.25,755.93" stroke="#000" stroke-width="0.7" fill="none" stroke-linecap="round" stroke-linejoin="round"/>
<path d="M421.06,791.85L419.54,802.7M421.83,791.85L421.06,796.5L420.3,800.38L419.54,802.7M429.46,791.85L428.69,794.95L427.17,798.05M430.22,791.85L429.46,794.18L428.69,795.73L427.17,798.05L425.64,799.6L423.35,801.15L421.83,801.93L419.54,802.7M418.78,791.85L421.83,791.85M447.01,783.33L447.01,808.12M447.77,783.33L447.77,808.12M447.01,783.33L452.35,783.33M447.01,808.12L452.35,808.12M467.61,788.75L468.37,791.08L468.37,786.43L467.61,788.75L466.08,787.2L463.79,786.43L462.27,786.43L459.98,787.2L458.45,788.75L457.69,790.3L456.93,792.62L456.93,796.5L457.69,798.83L458.45,800.38L459.98,801.93L462.27,802.7L463.79,802.7L466.08,801.93L467.61,800.38M462.27,786.43L460.74,787.2L459.21,788.75L458.45,790.3L457.69,792.62L457.69,796.5L458.45,798.83L459.21,800.38L460.74,801.93L462.27,802.7M467.61,796.5L467.61,802.7M468.37,796.5L468.37,802.7M465.32,796.5L470.66,796.5M476,786.43L476,802.7M476.76,786.43L476.76,802.7M485.92,786.43L485.92,802.7M486.68,786.43L486.68,802.7M473.71,786.43L479.05,786.43M483.63,786.43L488.97,786.43M476.76,794.18L485.92,794.18M473.71,802.7L479.05,802.7M483.63,802.7L488.97,802.7M501.18,791.85L492.79,802.7M501.94,791.85L493.55,802.7M493.55,791.85L492.79,794.95L492.79,791.85L501.94,791.85M492.79,802.7L501.94,802.7L501.94,799.6L501.18,802.7M511.1,783.33L511.1,808.12M511.86,783.33L511.86,808.12M506.52,783.33L511.86,783.33M506.52,808.12L511.86,808.12" stroke="#000" stroke-width="0.7" fill="none" stroke-linecap="round" stroke-linejoin="round"/>
<path d="M5.95,516.98L16.8,516.98M5.95,516.22L16.8,516.22M10.6,516.22L8.28,515.46L6.72,513.93L5.95,512.41L5.95,510.12L6.72,509.35L7.5,509.35L8.28,510.12L7.5,510.88L6.72,510.12M5.95,519.27L5.95,516.22M16.8,519.27L16.8,513.93M5.95,504.01L16.8,504.01M5.95,503.25L16.8,503.25M8.28,503.25L6.72,501.72L5.95,499.44L5.95,497.91L6.72,495.62L8.28,494.86L16.8,494.86M5.95,497.91L6.72,496.38L8.28,495.62L16.8,495.62M8.28,494.86L6.72,493.33L5.95,491.04L5.95,489.52L6.73,487.23L8.28,486.46L16.8,486.46M5.95,489.52L6.73,487.99L8.28,487.23L16.8,487.23M5.95,506.3L5.95,503.25M16.8,506.3L16.8,500.96M16.8,497.91L16.8,492.57M16.8,489.52L16.8,484.18M7.5,472.73L5.95,471.97L9.05,471.97L7.5,472.73L6.73,473.49L5.95,475.02L5.95,478.07L6.73,479.6L7.5,480.36L9.05,480.36L9.83,479.6L10.6,478.07L12.15,474.26L12.93,472.73L13.7,471.97M8.28,480.36L9.05,479.6L9.83,478.07L11.38,474.26L12.15,472.73L12.93,471.97L15.25,471.97L16.03,472.73L16.8,474.26L16.8,477.31L16.03,478.83L15.25,479.6L13.7,480.36L16.8,480.36L15.25,479.6M5.95,453.66L22.23,453.66M5.95,452.89L22.23,452.89M8.28,452.89L6.73,451.37L5.95,449.84L5.95,448.31L6.73,446.03L8.28,444.5L10.6,443.74L12.15,443.74L14.48,444.5L16.03,446.03L16.8,448.31L16.8,449.84L16.03,451.37L14.48,452.89M5.95,448.31L6.73,446.79L8.28,445.26L10.6,444.5L12.15,444.5L14.48,445.26L16.03,446.79L16.8,448.31M5.95,455.94L5.95,452.89M22.23,455.94L22.23,450.6M10.6,438.4L10.6,429.24L9.05,429.24L7.5,430L6.73,430.77L5.95,432.29L5.95,434.58L6.73,436.87L8.28,438.4L10.6,439.16L12.15,439.16L14.48,438.4L16.03,436.87L16.8,434.58L16.8,433.05L16.03,430.77L14.48,429.24M10.6,430L8.28,430L6.73,430.77M5.95,434.58L6.73,436.11L8.28,437.63L10.6,438.4L12.15,438.4L14.48,437.63L16.03,436.11L16.8,434.58M5.95,423.14L16.8,423.14M5.95,422.37L16.8,422.37M10.6,422.37L8.28,421.61L6.73,420.08L5.95,418.56L5.95,416.27L6.73,415.51L7.5,415.51L8.28,416.27L7.5,417.03L6.73,416.27M5.95,425.42L5.95,422.37M16.8,425.42L16.8,420.08M0.53,397.96L16.8,397.96M0.53,397.19L16.8,397.19M8.28,397.19L6.73,395.67L5.95,394.14L5.95,392.62L6.73,390.33L8.28,388.8L10.6,388.04L12.15,388.04L14.48,388.8L16.03,390.33L16.8,392.62L16.8,394.14L16.03,395.67L14.48,397.19M5.95,392.62L6.73,391.09L8.28,389.56L10.6,388.8L12.15,388.8L14.48,389.56L16.03,391.09L16.8,392.62M0.53,400.25L0.53,397.19M10.6,382.7L10.6,373.54L9.05,373.54L7.5,374.3L6.73,375.07L5.95,376.59L5.95,378.88L6.73,381.17L8.28,382.7L10.6,383.46L12.15,383.46L14.48,382.7L16.03,381.17L16.8,378.88L16.8,377.36L16.03,375.07L14.48,373.54M10.6,374.3L8.28,374.3L6.73,375.07M5.95,378.88L6.73,380.41L8.28,381.93L10.6,382.7L12.15,382.7L14.48,381.93L16.03,380.41L16.8,378.88M7.5,367.44L8.28,367.44L8.28,368.2L7.5,368.2L6.73,367.44L5.95,365.91L5.95,362.86L6.73,361.33L7.5,360.57L9.05,359.81L14.48,359.81L16.03,359.04L16.8,358.28M7.5,360.57L14.48,360.57L16.03,359.81L16.8,358.28L16.8,357.52M9.05,360.57L9.83,361.33L10.6,365.91L11.38,368.2L12.93,368.96L14.48,368.96L16.03,368.2L16.8,365.91L16.8,363.62L16.03,362.1L14.48,360.57M10.6,365.91L11.38,367.44L12.93,368.2L14.48,368.2L16.03,367.44L16.8,365.91M5.95,352.18L16.8,352.18M5.95,351.41L16.8,351.41M8.28,351.41L6.73,349.89L5.95,347.6L5.95,346.07L6.73,343.78L8.28,343.02L16.8,343.02M5.95,346.07L6.73,344.55L8.28,343.78L16.8,343.78M8.28,343.02L6.73,341.49L5.95,339.21L5.95,337.68L6.73,335.39L8.28,334.63L16.8,334.63M5.95,337.68L6.73,336.15L8.28,335.39L16.8,335.39M5.95,354.47L5.95,351.41M16.8,354.47L16.8,349.12M16.8,346.07L16.8,340.73M16.8,337.68L16.8,332.34M-2.57,315.55L22.23,315.55M-2.57,314.79L22.23,314.79M-2.57,315.55L-2.57,310.21M22.23,315.55L22.23,310.21M5.95,302.58L22.23,307.16M5.95,301.82L22.23,306.4M8.28,302.58L12.93,303.34L15.25,303.34L16.8,301.82L16.8,300.29L16.03,298.77L14.48,297.24L12.15,295.71M5.95,294.19L14.48,296.48L16.03,296.48L16.8,295.71L16.8,293.43L15.25,291.9L13.7,291.14M5.95,293.43L14.48,295.71L16.03,295.71L16.8,294.95M0.53,286.56L16.8,286.56M0.53,285.8L16.8,285.8M0.53,275.88L10.6,285.8M7.5,281.98L16.8,275.88M7.5,282.74L16.8,276.64M0.53,288.85L0.53,283.51M0.53,278.93L0.53,274.35M16.8,288.85L16.8,283.51M16.8,278.93L16.8,274.35M-2.57,266.72L22.23,266.72M-2.57,265.96L22.23,265.96M-2.57,271.3L-2.57,265.96M22.23,271.3L22.23,265.96" stroke="#000" stroke-width="0.7" fill="none" stroke-linecap="round" stroke-linejoin="round"/>
<path d="M214.57,77.85L215.33,80.17L215.33,75.52L214.57,77.85L213.04,76.3L210.76,75.52L209.23,75.52L206.94,76.3L205.41,77.85L204.65,79.4L203.89,81.72L203.89,85.6L204.65,87.92L205.41,89.47L206.94,91.02L209.23,91.8L210.76,91.8L213.04,91.02L214.57,89.47L215.33,87.92M209.23,75.52L207.7,76.3L206.18,77.85L205.41,79.4L204.65,81.72L204.65,85.6L205.41,87.92L206.18,89.47L207.7,91.02L209.23,91.8M221.44,75.52L221.44,91.8M222.2,75.52L226.78,89.47M221.44,75.52L226.78,91.8M232.12,75.52L226.78,91.8M232.12,75.52L232.12,91.8M232.88,75.52L232.88,91.8M219.15,75.52L222.2,75.52M232.12,75.52L235.17,75.52M219.15,91.8L223.73,91.8M229.83,91.8L235.17,91.8M240.51,75.52L240.51,91.8M241.28,75.52L241.28,91.8M238.22,75.52L247.38,75.52L249.67,76.3L250.43,77.08L251.19,78.62L251.19,80.17L250.43,81.72L249.67,82.5L247.38,83.27M247.38,75.52L248.91,76.3L249.67,77.08L250.43,78.62L250.43,80.17L249.67,81.72L248.91,82.5L247.38,83.27M241.28,83.27L247.38,83.27L249.67,84.05L250.43,84.83L251.19,86.38L251.19,88.7L250.43,90.25L249.67,91.02L247.38,91.8L238.22,91.8M247.38,83.27L248.91,84.05L249.67,84.83L250.43,86.38L250.43,88.7L249.67,90.25L248.91,91.02L247.38,91.8M257.3,75.52L257.3,91.8M258.06,75.52L258.06,91.8M255.01,75.52L264.17,75.52L266.45,76.3L267.22,77.08L267.98,78.62L267.98,80.17L267.22,81.72L266.45,82.5L264.17,83.27L258.06,83.27M264.17,75.52L265.69,76.3L266.45,77.08L267.22,78.62L267.22,80.17L266.45,81.72L265.69,82.5L264.17,83.27M255.01,91.8L260.35,91.8M261.88,83.27L263.4,84.05L264.17,84.83L266.45,90.25L267.22,91.02L267.98,91.02L268.74,90.25M263.4,84.05L264.17,85.6L265.69,91.02L266.45,91.8L267.98,91.8L268.74,90.25L268.74,89.47" stroke="#000" stroke-width="0.7" fill="none" stroke-linecap="round" stroke-linejoin="round"/>
<path d="M205.41,121.69L205.41,137.97M206.18,121.69L206.18,137.97M215.33,121.69L215.33,137.97M216.1,121.69L216.1,137.97M203.13,121.69L208.47,121.69M213.04,121.69L218.39,121.69M206.18,129.44L215.33,129.44M203.13,137.97L208.47,137.97M213.04,137.97L218.39,137.97M223.73,121.69L223.73,137.97M224.49,121.69L224.49,137.97M221.44,121.69L226.78,121.69M221.44,137.97L226.78,137.97M228.31,137.97L242.04,137.97M255.01,124.02L255.77,126.34L255.77,121.69L255.01,124.02L253.48,122.47L251.19,121.69L249.67,121.69L247.38,122.47L245.85,124.02L245.09,125.57L244.33,127.89L244.33,131.77L245.09,134.09L245.85,135.65L247.38,137.19L249.67,137.97L251.19,137.97L253.48,137.19L255.01,135.65L255.77,134.09M249.67,121.69L248.14,122.47L246.62,124.02L245.85,125.57L245.09,127.89L245.09,131.77L245.85,134.09L246.62,135.65L248.14,137.19L249.67,137.97" stroke="#ff0000" stroke-width="0.7" fill="none" stroke-linecap="round" stroke-linejoin="round"/>
<path d="M205.41,167.86L205.41,184.14M206.18,167.86L206.18,184.14M215.33,167.86L215.33,184.14M216.1,167.86L216.1,184.14M203.13,167.86L208.47,167.86M213.04,167.86L218.39,167.86M206.18,175.61L215.33,175.61M203.13,184.14L208.47,184.14M213.04,184.14L218.39,184.14M223.73,167.86L223.73,184.14M224.49,167.86L224.49,184.14M221.44,167.86L226.78,167.86M221.44,184.14L226.78,184.14M228.31,184.14L242.04,184.14M245.85,167.86L245.85,179.49L246.62,181.81L248.14,183.36L250.43,184.14L251.96,184.14L254.25,183.36L255.77,181.81L256.54,179.49L256.54,167.86M246.62,167.86L246.62,179.49L247.38,181.81L248.91,183.36L250.43,184.14M243.56,167.86L248.91,167.86M254.25,167.86L258.82,167.86" stroke="#0000ff" stroke-width="0.7" fill="none" stroke-linecap="round" stroke-linejoin="round"/>
<path d="M213.81,216.36L214.57,214.03L214.57,218.69L213.81,216.36L212.28,214.81L209.99,214.03L207.7,214.03L205.41,214.81L203.89,216.36L203.89,217.91L204.65,219.46L205.41,220.24L206.94,221.01L211.52,222.56L213.04,223.34L214.57,224.88M203.89,217.91L205.41,219.46L206.94,220.24L211.52,221.78L213.04,222.56L213.81,223.34L214.57,224.88L214.57,227.99L213.04,229.53L210.76,230.31L208.47,230.31L206.18,229.53L204.65,227.99L203.89,225.66L203.89,230.31L204.65,227.99M219.15,214.03L224.49,222.56L224.49,230.31M219.91,214.03L225.25,222.56L225.25,230.31M230.59,214.03L225.25,222.56M217.62,214.03L222.2,214.03M227.54,214.03L232.12,214.03M222.2,230.31L227.54,230.31M236.7,214.03L236.7,230.31M237.46,214.03L246.62,228.76M237.46,215.59L246.62,230.31M246.62,214.03L246.62,230.31M234.41,214.03L237.46,214.03M244.33,214.03L248.91,214.03M234.41,230.31L238.99,230.31M263.4,216.36L264.17,218.69L264.17,214.03L263.4,216.36L261.88,214.81L259.59,214.03L258.06,214.03L255.77,214.81L254.25,216.36L253.48,217.91L252.72,220.24L252.72,224.11L253.48,226.44L254.25,227.99L255.77,229.53L258.06,230.31L259.59,230.31L261.88,229.53L263.4,227.99L264.17,226.44M258.06,214.03L256.54,214.81L255.01,216.36L254.25,217.91L253.48,220.24L253.48,224.11L254.25,226.44L255.01,227.99L256.54,229.53L258.06,230.31" stroke="#00ff00" stroke-width="0.7" fill="none" stroke-linecap="round" stroke-linejoin="round"/>
<path d="M203.89,260.21L209.23,268.73L209.23,276.48M204.65,260.21L209.99,268.73L209.99,276.48M215.33,260.21L209.99,268.73M202.36,260.21L206.94,260.21M212.28,260.21L216.86,260.21M206.94,276.48L212.28,276.48M217.62,276.48L231.36,276.48M243.56,262.53L244.33,260.21L244.33,264.86L243.56,262.53L242.04,260.98L239.75,260.21L237.46,260.21L235.17,260.98L233.65,262.53L233.65,264.08L234.41,265.63L235.17,266.41L236.7,267.18L241.28,268.73L242.8,269.5L244.33,271.06M233.65,264.08L235.17,265.63L236.7,266.41L241.28,267.96L242.8,268.73L243.56,269.5L244.33,271.06L244.33,274.16L242.8,275.71L240.51,276.48L238.22,276.48L235.94,275.71L234.41,274.16L233.65,271.83L233.65,276.48L234.41,274.16M258.82,260.21L248.91,276.48M259.59,260.21L249.67,276.48M249.67,260.21L248.91,264.86L248.91,260.21L259.59,260.21M248.91,276.48L259.59,276.48L259.59,271.83L258.82,276.48" stroke="#ffff00" stroke-width="0.7" fill="none" stroke-linecap="round" stroke-linejoin="round"/>
<path d="M205.41,306.38L205.41,322.65M206.18,306.38L206.18,322.65M203.13,306.38L212.28,306.38L214.57,307.15L215.33,307.93L216.1,309.48L216.1,311.8L215.33,313.35L214.57,314.13L212.28,314.9L206.18,314.9M212.28,306.38L213.81,307.15L214.57,307.93L215.33,309.48L215.33,311.8L214.57,313.35L213.81,314.13L212.28,314.9M203.13,322.65L208.47,322.65M222.2,306.38L222.2,322.65M222.96,306.38L232.12,321.1M222.96,307.93L232.12,322.65M232.12,306.38L232.12,322.65M219.91,306.38L222.96,306.38M229.83,306.38L234.41,306.38M219.91,322.65L224.49,322.65M242.8,306.38L242.8,322.65M243.56,306.38L243.56,322.65M238.22,306.38L237.46,311.03L237.46,306.38L248.91,306.38L248.91,311.03L248.14,306.38M240.51,322.65L245.85,322.65M262.64,308.7L263.4,306.38L263.4,311.03L262.64,308.7L261.11,307.15L258.82,306.38L256.54,306.38L254.25,307.15L252.72,308.7L252.72,310.25L253.48,311.8L254.25,312.58L255.77,313.35L260.35,314.9L261.88,315.68L263.4,317.23M252.72,310.25L254.25,311.8L255.77,312.58L260.35,314.13L261.88,314.9L262.64,315.68L263.4,317.23L263.4,320.33L261.88,321.88L259.59,322.65L257.3,322.65L255.01,321.88L253.48,320.33L252.72,318L252.72,322.65L253.48,320.33" stroke="#800080" stroke-width="0.7" fill="none" stroke-linecap="round" stroke-linejoin="round"/>
<path d="M205.41,352.55L205.41,368.82M206.18,352.55L215.33,367.27M206.18,354.09L215.33,368.82M215.33,352.55L215.33,368.82M203.13,352.55L206.18,352.55M213.04,352.55L217.62,352.55M203.13,368.82L207.7,368.82M226.78,352.55L224.49,353.32L222.96,354.87L222.2,356.42L221.44,359.52L221.44,361.84L222.2,364.94L222.96,366.5L224.49,368.05L226.78,368.82L228.31,368.82L230.59,368.05L232.12,366.5L232.88,364.94L233.65,361.84L233.65,359.52L232.88,356.42L232.12,354.87L230.59,353.32L228.31,352.55L226.78,352.55M226.78,352.55L225.25,353.32L223.73,354.87L222.96,356.42L222.2,359.52L222.2,361.84L222.96,364.94L223.73,366.5L225.25,368.05L226.78,368.82M228.31,368.82L229.83,368.05L231.36,366.5L232.12,364.94L232.88,361.84L232.88,359.52L232.12,356.42L231.36,354.87L229.83,353.32L228.31,352.55M239.75,352.55L239.75,368.82M240.51,352.55L240.51,368.82M237.46,352.55L242.8,352.55M237.46,368.82L242.8,368.82M256.54,354.87L257.3,352.55L257.3,357.19L256.54,354.87L255.01,353.32L252.72,352.55L250.43,352.55L248.14,353.32L246.62,354.87L246.62,356.42L247.38,357.97L248.14,358.75L249.67,359.52L254.25,361.07L255.77,361.84L257.3,363.39M246.62,356.42L248.14,357.97L249.67,358.75L254.25,360.3L255.77,361.07L256.54,361.84L257.3,363.39L257.3,366.5L255.77,368.05L253.48,368.82L251.19,368.82L248.91,368.05L247.38,366.5L246.62,364.17L246.62,368.82L247.38,366.5" stroke="#ff8c00" stroke-width="0.7" fill="none" stroke-linecap="round" stroke-linejoin="round"/>
</svg>
</body></html>
